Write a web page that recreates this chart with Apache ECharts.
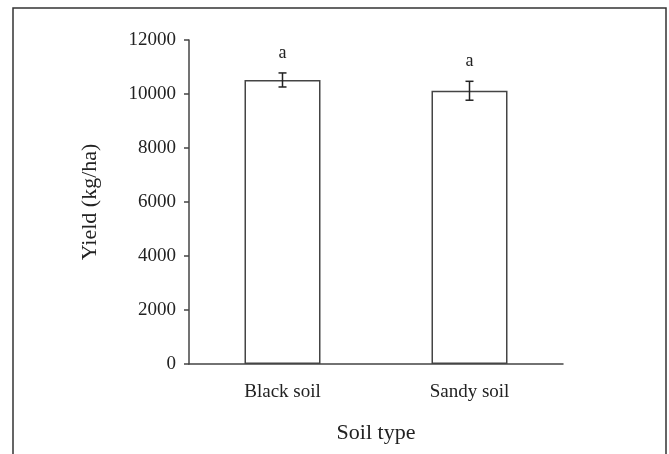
<!DOCTYPE html>
<html>
<head>
<meta charset="utf-8">
<script src="https://cdn.jsdelivr.net/npm/echarts@6/dist/echarts.min.js"></script>
<style>html,body{margin:0;padding:0;background:#fff;}#c{width:669px;height:454px;}</style>
</head>
<body>
<div id="c"></div>
<script>
var categories = ['Black soil', 'Sandy soil'];
var yieldValues = [10520, 10120];
var errorValues = [260, 350];
var sigLetters = ['a', 'a'];
var yTicks = [0, 2000, 4000, 6000, 8000, 10000, 12000];

var FONT = '"Liberation Serif", "DejaVu Serif", serif';
var chart = echarts.init(document.getElementById('c'));
var errData = categories.map(function (c, i) {
  return [i, yieldValues[i] - errorValues[i], yieldValues[i] + errorValues[i], sigLetters[i]];
});
chart.setOption({
  backgroundColor: '#fff',
  animation: false,
  grid: { left: 189, right: 106, top: 40, bottom: 90, containLabel: false },
  xAxis: {
    type: 'category',
    data: categories,
    name: 'Soil type',
    nameLocation: 'middle',
    nameGap: 58,
    nameTextStyle: { fontFamily: FONT, fontSize: 22, color: '#222' },
    axisLine: { lineStyle: { color: '#444', width: 1.5 } },
    axisTick: { inside: true, length: 5, lineStyle: { color: '#444', width: 1.5 } },
    axisLabel: { fontFamily: FONT, fontSize: 19, color: '#222', margin: 19 }
  },
  yAxis: {
    type: 'value',
    min: yTicks[0],
    max: yTicks[yTicks.length - 1],
    interval: 2000,
    name: 'Yield (kg/ha)',
    nameLocation: 'middle',
    nameGap: 88,
    nameTextStyle: { fontFamily: FONT, fontSize: 22, color: '#222' },
    axisLine: { show: true, lineStyle: { color: '#444', width: 1.5 } },
    axisTick: { show: true, length: 5, lineStyle: { color: '#444', width: 1.5 } },
    axisLabel: { fontFamily: FONT, fontSize: 19, color: '#222', margin: 13,
      formatter: function (v) { return String(v); } },
    splitLine: { show: false }
  },
  series: [
    {
      type: 'bar',
      data: yieldValues,
      barWidth: 76,
      itemStyle: { color: '#fff', borderColor: '#444', borderWidth: 1.5 }
    },
    {
      type: 'custom',
      data: errData,
      z: 10,
      renderItem: function (params, api) {
        var x = api.value(0);
        var lo = api.coord([x, api.value(1)]);
        var hi = api.coord([x, api.value(2)]);
        var cap = 4;
        var st = { stroke: '#222', lineWidth: 1.5 };
        return {
          type: 'group',
          children: [
            { type: 'line', shape: { x1: lo[0], y1: lo[1], x2: hi[0], y2: hi[1] }, style: st },
            { type: 'line', shape: { x1: lo[0] - cap, y1: lo[1], x2: lo[0] + cap, y2: lo[1] }, style: st },
            { type: 'line', shape: { x1: hi[0] - cap, y1: hi[1], x2: hi[0] + cap, y2: hi[1] }, style: st },
            { type: 'text', x: hi[0], y: hi[1] - 11,
              style: { text: api.value(3), font: '18px ' + FONT, fill: '#222', align: 'center', verticalAlign: 'bottom' } }
          ]
        };
      }
    }
  ],
  graphic: [
    { type: 'polyline', shape: { points: [[13, 454], [13, 8], [666, 8], [666, 454]] },
      style: { stroke: '#333', lineWidth: 1.5, fill: null } }
  ]
});
</script>
</body>
</html>
